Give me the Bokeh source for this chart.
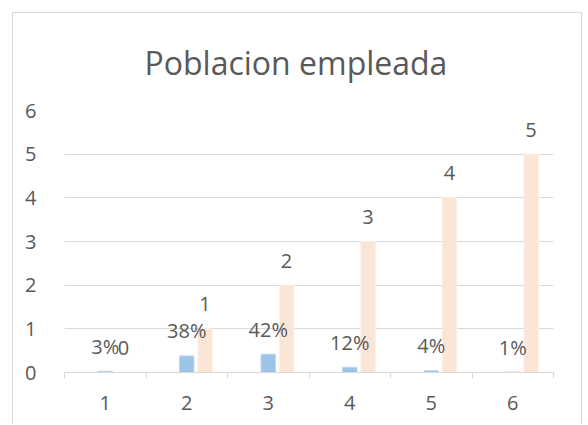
from bokeh.plotting import figure
from bokeh.models import ColumnDataSource, Range1d, FixedTicker, LabelSet
from bokeh.core.properties import value
from bokeh.transform import dodge
from bokeh.embed import file_html
from bokeh.resources import INLINE

categories = [1, 2, 3, 4, 5, 6]
category_labels = ["1", "2", "3", "4", "5", "6"]
share = [0.03, 0.38, 0.42, 0.12, 0.04, 0.01]
share_labels = ["3%", "38%", "42%", "12%", "4%", "1%"]
counts = [0, 1, 2, 3, 4, 5]
count_labels = ["0", "1", "2", "3", "4", "5"]
y_ticks = [0, 1, 2, 3, 4, 5, 6]
title_text = "Poblacion empleada"

FONT = "Open Sans"
TXT = "#595959"
GRID = "#d9d9d9"

src = ColumnDataSource(dict(cat=categories, share=share, share_lbl=share_labels,
                            cnt=counts, cnt_lbl=count_labels))

W, H = 570, 412
p = figure(width=W, height=H, output_backend="svg", toolbar_location=None,
           x_range=Range1d(0.5, 6.5), y_range=Range1d(0, 6),
           min_border_left=51, min_border_right=30, min_border_bottom=53, min_border_top=97)
p.outline_line_color = None
p.background_fill_color = "white"
p.border_fill_color = "white"
p.styles = {"margin-left": "12px", "margin-top": "12px",
            "border-left": "1px solid #d9d9d9", "border-top": "1px solid #d9d9d9",
            "border-right": "1px solid #d9d9d9"}

p.title.text = title_text
p.title.text_font = FONT
p.title.text_font_size = "32px"
p.title.text_font_style = "normal"
p.title.text_color = TXT
p.title.align = "left"
p.title.offset = 80
p.title.vertical_align = "top"
p.title.standoff = 49

bw = 0.178
off = 0.225
p.vbar(x=dodge("cat", 0.0, range=p.x_range), top="share", width=bw, source=src,
       fill_color="#9dc3e6", line_color="#c0d8ef", line_width=1)
p.vbar(x=dodge("cat", off, range=p.x_range), top="cnt", width=bw, source=src,
       fill_color="#fbe5d6", line_color="#fdf0e8", line_width=1)

for xf, yf, tf in [(dodge("cat", 0.0, range=p.x_range), "share", "share_lbl"),
                   (dodge("cat", off, range=p.x_range), "cnt", "cnt_lbl")]:
    ls = LabelSet(x=xf, y=yf, text=tf, source=src, y_offset=17.5,
                  text_align="center", text_baseline="alphabetic",
                  text_font=value(FONT), text_font_size="20px", text_color=TXT)
    p.add_layout(ls)

# x axis
xa = p.xaxis[0]
xa.ticker = FixedTicker(ticks=categories, minor_ticks=[c - 0.5 for c in categories] + [categories[-1] + 0.5])
xa.major_label_overrides = {c: l for c, l in zip(categories, category_labels)}
xa.major_tick_out = 0
xa.major_tick_in = 0
xa.minor_tick_out = 6
xa.minor_tick_in = 0
xa.minor_tick_line_color = GRID
xa.axis_line_color = GRID
xa.major_label_text_font = FONT
xa.major_label_text_font_size = "20px"
xa.major_label_text_color = TXT
xa.major_label_standoff = 17

ya = p.yaxis[0]
ya.ticker = FixedTicker(ticks=y_ticks)
ya.axis_line_color = None
ya.major_tick_line_color = None
ya.minor_tick_line_color = None
ya.major_label_text_font = FONT
ya.major_label_text_font_size = "20px"
ya.major_label_text_color = TXT
ya.major_label_standoff = 22

p.xgrid.grid_line_color = None
p.ygrid.ticker = FixedTicker(ticks=y_ticks)
p.ygrid.grid_line_color = GRID

open("out.html", "w").write(file_html(p, INLINE))
